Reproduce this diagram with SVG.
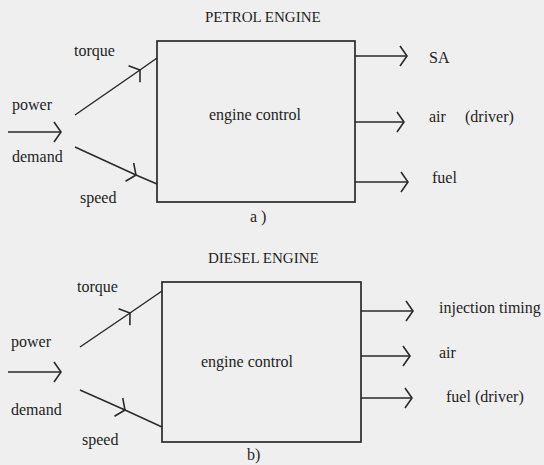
<svg xmlns="http://www.w3.org/2000/svg" width="544" height="465" viewBox="0 0 544 465">
<style>
text{font-family:'Liberation Serif','DejaVu Serif',serif;font-size:16px;fill:#1e1e1e}
.title{font-size:15px}
.box{fill:none;stroke:#2a2a2a;stroke-width:1.7}
.wire{fill:none;stroke:#2a2a2a;stroke-width:1.5}
</style>
<defs>
<marker id="chev" markerUnits="userSpaceOnUse" viewBox="-10 -12 12 24" refX="0" refY="0" markerWidth="12" markerHeight="24" orient="auto" overflow="visible">
<path d="M-7,-10 L0,0 L-7,10" fill="none" stroke="#2a2a2a" stroke-width="1.6"/>
</marker>
</defs>
<rect width="544" height="465" fill="#efefef"/>

<text class="title" x="205" y="22">PETROL ENGINE</text>
<g id="engine-control-a">
<rect class="box" x="157" y="41" width="198" height="161"/>
<text x="209" y="120">engine control</text>
</g>
<g id="power-demand-a">
<text x="12" y="110">power</text>
<text x="12" y="162">demand</text>
</g>
<g id="torque-a"><text x="74" y="56">torque</text></g>
<g id="speed-a"><text x="80" y="203">speed</text></g>
<g id="sa-a"><text x="429" y="63">SA</text></g>
<g id="air-a"><text x="429" y="122">air</text><text x="465" y="122">(driver)</text></g>
<g id="fuel-a"><text x="432" y="183">fuel</text></g>
<text x="250" y="222">a )</text>

<text class="title" x="208" y="263">DIESEL ENGINE</text>
<g id="engine-control-b">
<rect class="box" x="162" y="282" width="199" height="160"/>
<text x="201" y="367">engine control</text>
</g>
<g id="power-demand-b">
<text x="11" y="347">power</text>
<text x="11" y="415">demand</text>
</g>
<g id="torque-b"><text x="77" y="292">torque</text></g>
<g id="speed-b"><text x="82" y="445">speed</text></g>
<g id="injection-b"><text x="439" y="313">injection timing</text></g>
<g id="air-b"><text x="439" y="358">air</text></g>
<g id="fuel-b"><text x="446" y="402">fuel (driver)</text></g>
<text x="247" y="460">b)</text>

<g id="connectors">
<path class="wire" d="M8,132 L61,132" marker-end="url(#chev)"/>
<path class="wire" d="M75,115 L140,70 L157,58" marker-mid="url(#chev)"/>
<path class="wire" d="M75,147 L136,175 L157,184" marker-mid="url(#chev)"/>
<path class="wire" d="M355,56 L407,56" marker-end="url(#chev)"/>
<path class="wire" d="M355,122 L404,122" marker-end="url(#chev)"/>
<path class="wire" d="M355,182 L408,182" marker-end="url(#chev)"/>

<path class="wire" d="M8,372 L61,372" marker-end="url(#chev)"/>
<path class="wire" d="M80,347 L130,313 L162,291" marker-mid="url(#chev)"/>
<path class="wire" d="M80,390 L125,410 L162,427" marker-mid="url(#chev)"/>
<path class="wire" d="M361,311 L413,311" marker-end="url(#chev)"/>
<path class="wire" d="M361,356 L410,356" marker-end="url(#chev)"/>
<path class="wire" d="M361,398 L412,398" marker-end="url(#chev)"/>
</g>
</svg>
